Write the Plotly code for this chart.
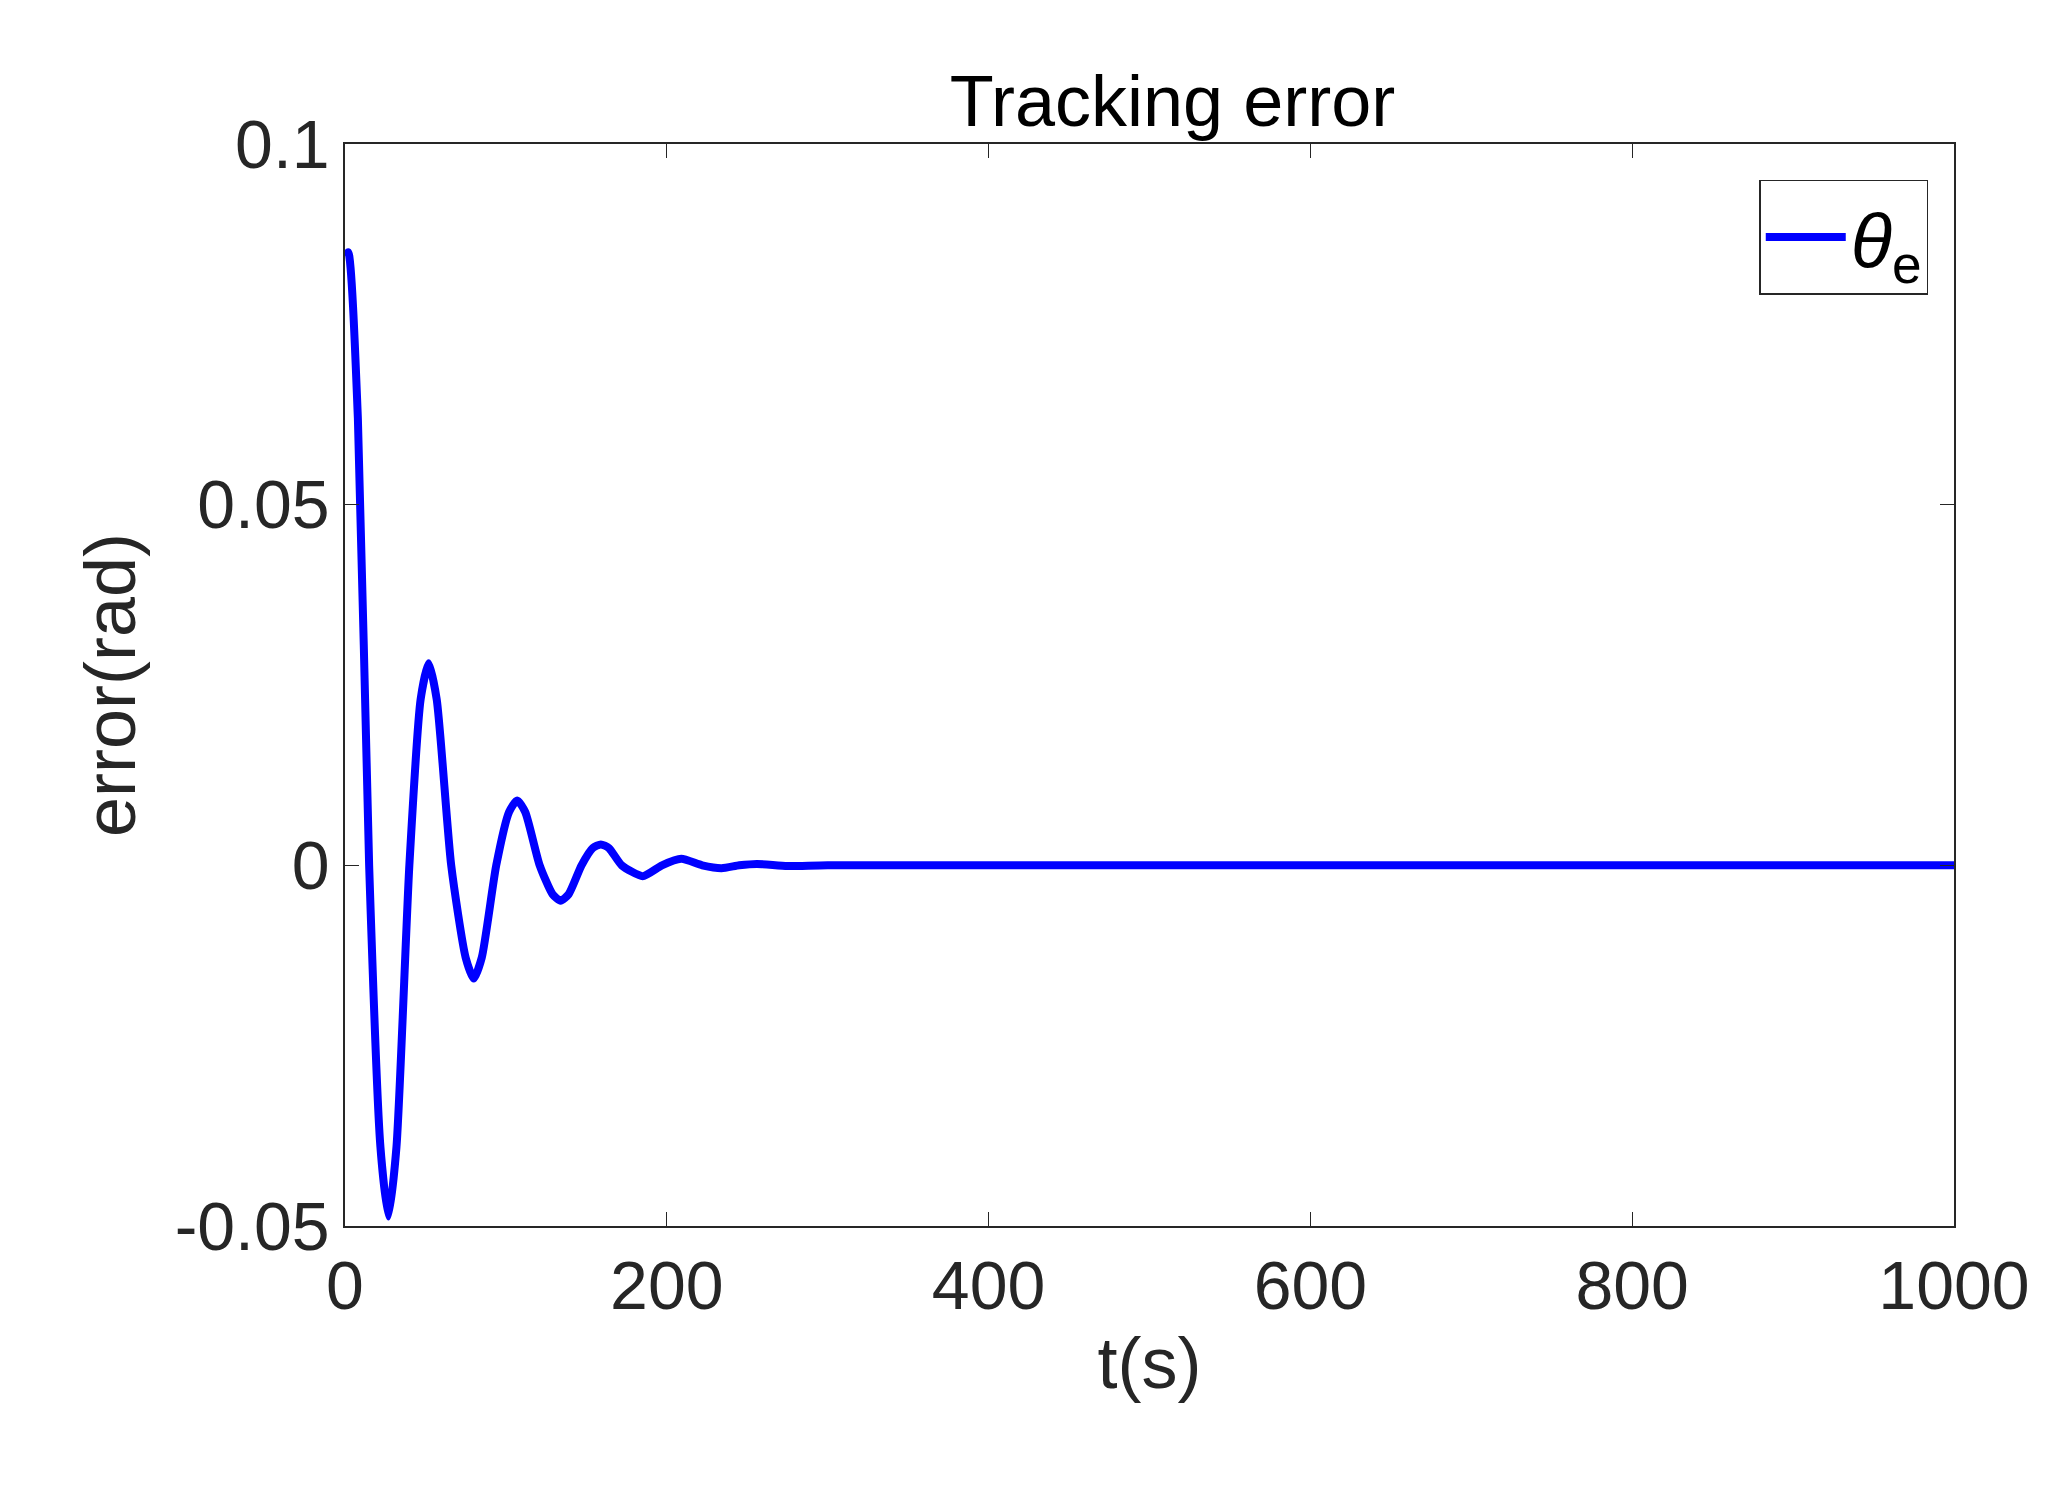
import plotly.graph_objects as go

t = [0, 2, 8, 15, 22, 27, 32, 40, 47, 52, 57, 66, 75, 80, 85, 94, 102, 107, 112, 121, 129, 134, 139, 147, 154, 159, 164, 172, 185, 197, 209, 222, 234, 245, 256, 275, 300, 1000]
err = [0.0845, 0.085, 0.062, 0.0, -0.039, -0.0487, -0.039, 0.0, 0.023, 0.028, 0.023, 0.0, -0.0128, -0.0157, -0.0128, 0.0, 0.0074, 0.009, 0.0074, 0.0, -0.004, -0.0049, -0.004, 0.0, 0.0024, 0.0029, 0.0024, 0.0, -0.0015, 0.0, 0.0009, 0.0, -0.0004, 0.0, 0.0002, -0.0001, 0.0, 0.0]

fig = go.Figure(go.Scatter(x=t, y=err, mode="lines", line=dict(color="#0000ff", width=8, shape="spline", smoothing=0.6),
                           name="<i>θ</i><sub>e</sub>"))
ax = dict(showgrid=False, zeroline=False, showline=True, linecolor="#262626", linewidth=1.5, mirror="ticks",
          ticks="inside", ticklen=14, tickcolor="#262626", tickfont=dict(size=68, color="#262626"))
fig.update_layout(
    width=2072, height=1494, plot_bgcolor="white", paper_bgcolor="white",
    font=dict(family="Liberation Sans, Arial, sans-serif", color="#262626"),
    margin=dict(l=337, r=126, t=136, b=276),
    title=dict(text="Tracking error", x=0.562, xanchor="center", y=0.955, font=dict(size=72, color="black")),
    xaxis=dict(range=[0, 1000], tickvals=[0, 200, 400, 600, 800, 1000], title=dict(text="t(s)", font=dict(size=72)), **ax),
    yaxis=dict(range=[-0.05, 0.1], tickvals=[-0.05, 0, 0.05, 0.1], ticktext=["-0.05", "0", "0.05", "0.1"],
               title=dict(text="error(rad)", font=dict(size=72)), **ax),
    legend=dict(x=0.984, y=0.967, xanchor="right", yanchor="top", bordercolor="#262626", borderwidth=1.5,
                bgcolor="white", font=dict(size=76, color="black"), itemwidth=80),
    showlegend=True,
)
fig.write_html("out.html")
